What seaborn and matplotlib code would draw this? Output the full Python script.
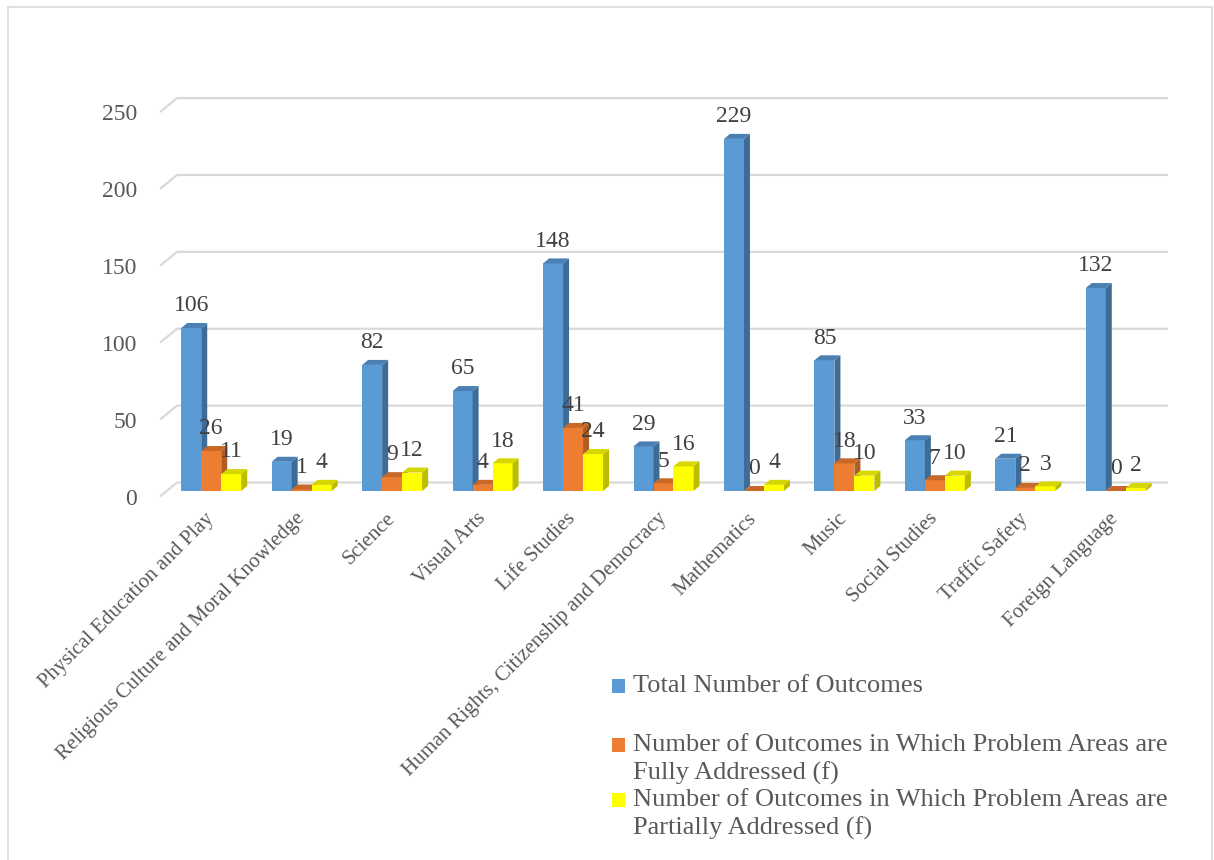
import textwrap
import numpy as np
import pandas as pd
import matplotlib
matplotlib.use("Agg")
import matplotlib.pyplot as plt
from matplotlib.patches import Polygon, Rectangle
from matplotlib.transforms import ScaledTranslation
import seaborn as sns

# ---------------- data ----------------
categories = [
    "Physical Education and Play",
    "Religious Culture and Moral Knowledge",
    "Science",
    "Visual Arts",
    "Life Studies",
    "Human Rights, Citizenship and Democracy",
    "Mathematics",
    "Music",
    "Social Studies",
    "Traffic Safety",
    "Foreign Language",
]
total_outcomes = [106, 19, 82, 65, 148, 29, 229, 85, 33, 21, 132]
fully_addressed = [26, 1, 9, 4, 41, 5, 0, 18, 7, 2, 0]
partially_addressed = [11, 4, 12, 18, 24, 16, 4, 10, 10, 3, 2]
series_names = [
    "Total Number of Outcomes",
    "Number of Outcomes in Which Problem Areas are Fully Addressed (f)",
    "Number of Outcomes in Which Problem Areas are Partially Addressed (f)",
]
y_ticks = [0, 50, 100, 150, 200, 250]

# ---------------- style ----------------
front_colors = ["#5B9BD5", "#ED7D31", "#FFFF00"]
side_colors = ["#3F6C97", "#B05C22", "#BDBD00"]
top_colors = ["#4A80B3", "#C8692A", "#D6D600"]
tick_color = "#595959"
label_color = "#404040"

sns.set_style("white")
plt.rcParams["font.family"] = ["Liberation Serif", "DejaVu Serif"]

W, H = 1214, 860
fig = plt.figure(figsize=(W / 100, H / 100), dpi=100)
ax_left, ax_right, ax_bottom, ax_top = 166, 1161, 491, 106.6
ax = fig.add_axes([ax_left / W, 1 - ax_bottom / H,
                   (ax_right - ax_left) / W, (ax_bottom - ax_top) / H])

df = pd.DataFrame({
    "category": categories * 3,
    "series": np.repeat(series_names, len(categories)),
    "value": total_outcomes + fully_addressed + partially_addressed,
})

sns.barplot(data=df, x="category", y="value", hue="series",
            order=categories, hue_order=series_names,
            palette=front_colors, saturation=1, width=0.663, gap=0,
            legend=False, ax=ax, linewidth=0, edgecolor="none")

ax.set_xlim(-0.5, len(categories) - 0.5)
ax.set_ylim(y_ticks[0], y_ticks[-1])
ax.set_xlabel("")
ax.set_ylabel("")
sns.despine(ax=ax, left=True, bottom=True)
ax.grid(False)

# pixel -> data conversion
ppx = (ax_right - ax_left) / (len(categories))
ppy = (ax_bottom - ax_top) / (y_ticks[-1] - y_ticks[0])
depth_dx, depth_dy = 6 / ppx, 5 / ppy

# 3D-looking faces
for si, cont in enumerate(ax.containers):
    for bar in cont:
        x0 = bar.get_x()
        x1 = x0 + bar.get_width()
        h = bar.get_height()
        bar.set_zorder(3 + 2 * si)
        side = Polygon([(x1, 0), (x1 + depth_dx, depth_dy),
                        (x1 + depth_dx, h + depth_dy), (x1, h)],
                       closed=True, facecolor=side_colors[si],
                       edgecolor="none", zorder=4 + 2 * si, clip_on=False)
        top = Polygon([(x0, h), (x1, h), (x1 + depth_dx, h + depth_dy),
                       (x0 + depth_dx, h + depth_dy)],
                      closed=True, facecolor=top_colors[si],
                      edgecolor="none", zorder=4 + 2 * si, clip_on=False)
        ax.add_patch(side)
        ax.add_patch(top)
        ax.annotate(f"{int(h)}", (x0 + bar.get_width() / 2, h),
                    xytext=(0, 12), textcoords="offset points",
                    ha="center", va="baseline", fontsize=17,
                    color=label_color, zorder=20, annotation_clip=False)

# perspective gridlines (side wall diagonal + back wall horizontal)
xl = ax.get_xlim()
for v in y_ticks:
    xs = [xl[0] - 6 / ppx, xl[0] + 11 / ppx, xl[0] + 1002 / ppx]
    ys = [v - 5.5 / ppy, v + 8.5 / ppy, v + 8.5 / ppy]
    ax.plot(xs, ys, color="#D9D9D9", lw=1.6, zorder=0.5, clip_on=False,
            solid_capstyle="butt")

# ticks
ax.set_yticks(y_ticks)
ax.set_yticklabels([str(t) for t in y_ticks])
ax.tick_params(axis="y", length=0, pad=21, labelsize=17, labelcolor=tick_color)
for lab in ax.get_yticklabels():
    lab.set_transform(lab.get_transform() +
                      ScaledTranslation(0, -5.5 / 100, fig.dpi_scale_trans))

ax.tick_params(axis="x", length=0, pad=18, labelsize=15, labelcolor=tick_color)
for lab in ax.get_xticklabels():
    lab.set_rotation(45)
    lab.set_ha("right")
    lab.set_va("center")
    lab.set_rotation_mode("anchor")

# legend (handle aligned with first text line)
leg_x, leg_text_x = 612, 633
leg_y = [686, 745, 800]
line_pitch = 28
for si, name in enumerate(series_names):
    y = leg_y[si]
    fig.patches.append(Rectangle(((leg_x) / W, 1 - (y + 7) / H), 13 / W, 14 / H,
                                 transform=fig.transFigure,
                                 facecolor=front_colors[si], edgecolor="none"))
    for li, line in enumerate(textwrap.wrap(name, 45)):
        fig.text(leg_text_x / W, 1 - (y + li * line_pitch) / H, line,
                 ha="left", va="center", fontsize=19, color=tick_color)

# chart border
fig.patches.append(Rectangle((8 / W, -0.01), 1204 / W, 1 - 7 / H + 0.01,
                             transform=fig.transFigure, fill=False,
                             edgecolor="#D9D9D9", lw=1.2))

fig.savefig("out.png", dpi=100)
